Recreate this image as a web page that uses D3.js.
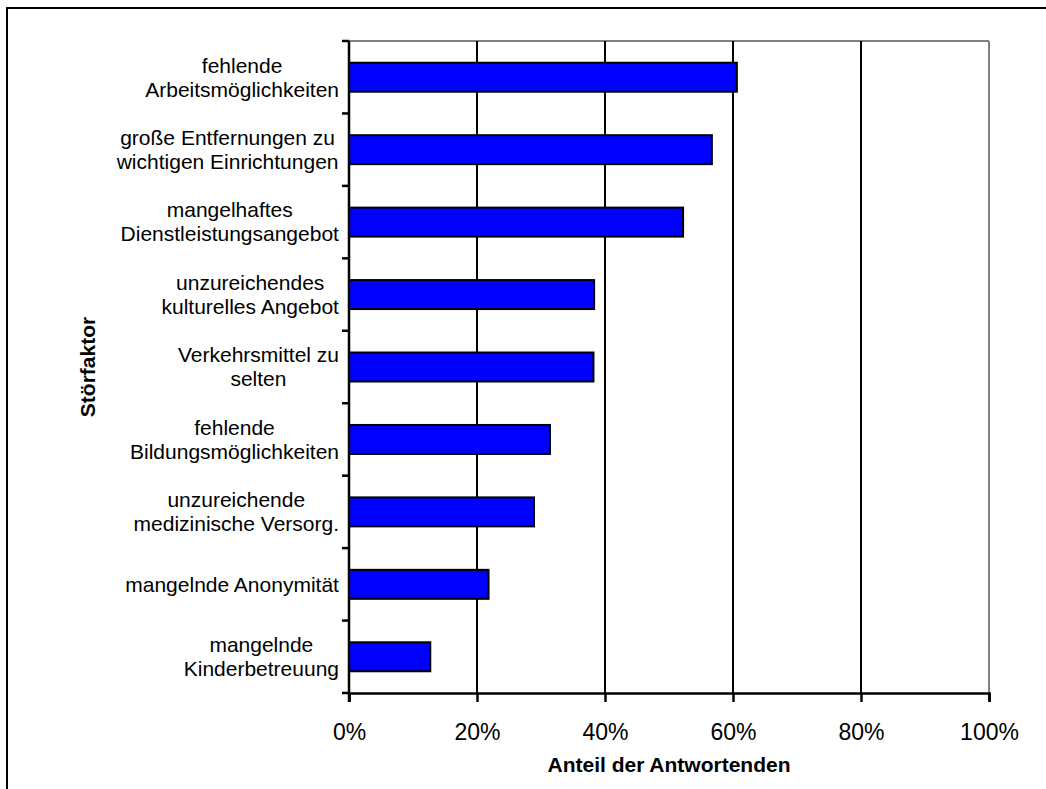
<!DOCTYPE html>
<html>
<head>
<meta charset="utf-8">
<script src="https://cdn.jsdelivr.net/npm/d3@7"></script>
<style>
  body { margin: 0; background: #fff; }
  svg text { font-family: "Liberation Sans", Arial, sans-serif; fill: #000; }
</style>
</head>
<body>
<svg id="chart" width="1046" height="789"></svg>
<script>
// chart data
const categories = [
  "fehlende\nArbeitsmöglichkeiten",
  "große Entfernungen zu\nwichtigen Einrichtungen",
  "mangelhaftes\nDienstleistungsangebot",
  "unzureichendes\nkulturelles Angebot",
  "Verkehrsmittel zu\nselten",
  "fehlende\nBildungsmöglichkeiten",
  "unzureichende\nmedizinische Versorg.",
  "mangelnde Anonymität",
  "mangelnde\nKinderbetreuung"
];
const values = [60.6, 56.7, 52.2, 38.3, 38.2, 31.4, 28.9, 21.8, 12.7];
const xTicks = [0, 20, 40, 60, 80, 100];
const xTitle = "Anteil der Antwortenden";
const yTitle = "Störfaktor";

const svg = d3.select('#chart');

// outer frame (right/bottom edges run off the picture)
svg.append('rect')
  .attr('x', 7).attr('y', 8)
  .attr('width', 1060).attr('height', 800)
  .attr('fill', 'none').attr('stroke', '#000').attr('stroke-width', 2);

const plotLeft = 349, plotRight = 989, plotTop = 41, plotBottom = 693;

let x = d3.scaleLinear().domain([0, 100]).range([plotLeft, plotRight]);
let y = d3.scaleBand().domain(categories).range([plotTop, plotBottom])
  .paddingInner(0.6).paddingOuter(0.3);

// plot area border (grey top + right)
svg.append('line').attr('x1', plotLeft).attr('x2', plotRight).attr('y1', plotTop).attr('y2', plotTop)
  .attr('stroke', '#808080').attr('stroke-width', 2);
svg.append('line').attr('x1', plotRight).attr('x2', plotRight).attr('y1', plotTop).attr('y2', plotBottom)
  .attr('stroke', '#808080').attr('stroke-width', 2);

// gridlines
svg.selectAll('.grid')
  .data(xTicks.filter(d => d > 0 && d < 100))
  .join('line')
  .classed('grid', true)
  .attr('x1', d => x(d)).attr('x2', d => x(d))
  .attr('y1', plotTop).attr('y2', plotBottom)
  .attr('stroke', '#000').attr('stroke-width', 2);

// bars
svg.selectAll('.bar')
  .data(categories)
  .join('rect')
  .classed('bar', true)
  .attr('x', x(0))
  .attr('y', d => y(d))
  .attr('width', (d, i) => x(values[i]) - x(0))
  .attr('height', y.bandwidth())
  .attr('fill', '#0000ff')
  .attr('stroke', '#000').attr('stroke-width', 2);

// x axis
let xAxis = d3.axisBottom(x)
  .tickValues(xTicks)
  .tickFormat(d => d + '%')
  .tickSize(9)
  .tickPadding(22);
let gx = svg.append('g')
  .attr('transform', `translate(0,${plotBottom})`)
  .call(xAxis);
gx.select('.domain').attr('stroke', '#000').attr('stroke-width', 2.5);
gx.selectAll('.tick line').attr('stroke', '#000').attr('stroke-width', 2.5);
gx.selectAll('.tick text').style('font-size', '23px');

// y axis: ticks on the category boundaries
let boundaries = categories.map(c => y(c) - y.step() * y.paddingInner() / 2);
boundaries[0] = plotTop;
boundaries.push(plotBottom);
svg.append('line').attr('x1', plotLeft).attr('x2', plotLeft)
  .attr('y1', plotTop).attr('y2', plotBottom + 9)
  .attr('stroke', '#000').attr('stroke-width', 2.5);
svg.selectAll('.ytick')
  .data(boundaries)
  .join('line')
  .classed('ytick', true)
  .attr('x1', plotLeft - 7).attr('x2', plotLeft)
  .attr('y1', d => d).attr('y2', d => d)
  .attr('stroke', '#000').attr('stroke-width', 2.5);

// category labels, multi-line, centred as a block against the axis
const labelRight = 339, lineH = 24;
categories.forEach(c => {
  let lines = c.split('\n');
  let g = svg.append('text')
    .attr('text-anchor', 'middle')
    .style('font-size', '21px');
  lines.forEach((t, i) => {
    g.append('tspan').attr('x', 0)
      .attr('y', y(c) + y.bandwidth() / 2 + (i - (lines.length - 1) / 2) * lineH)
      .attr('dy', '0.35em')
      .text(t);
  });
  let w = g.node().getBBox().width;
  g.selectAll('tspan').attr('x', labelRight - w / 2);
});

// axis titles
svg.append('text')
  .attr('x', (plotLeft + plotRight) / 2).attr('y', 772)
  .attr('text-anchor', 'middle')
  .style('font-size', '21px').style('font-weight', 'bold')
  .text(xTitle);

svg.append('text')
  .attr('transform', `translate(95,${(plotTop + plotBottom) / 2}) rotate(-90)`)
  .attr('text-anchor', 'middle')
  .style('font-size', '21px').style('font-weight', 'bold')
  .text(yTitle);
</script>
</body>
</html>
